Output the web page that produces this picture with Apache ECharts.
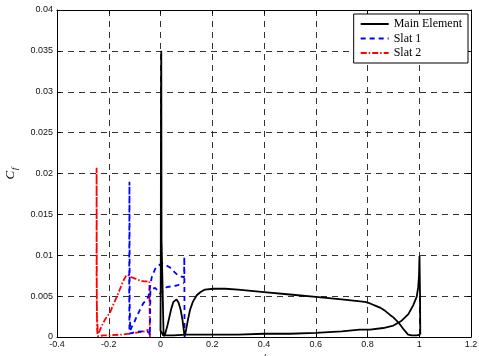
<!DOCTYPE html>
<html>
<head>
<meta charset="utf-8">
<script src="https://cdn.jsdelivr.net/npm/echarts@6/dist/echarts.min.js"></script>
<style>
  html, body { margin: 0; padding: 0; background: #fff; }
  #chart { width: 479px; height: 356px; }
</style>
</head>
<body>
<div id="chart"></div>
<script>
// Skin-friction coefficient along the three elements (closed loops: upper then lower surface)
const mainX = [1.004, 0.99, 0.97, 0.957, 0.951, 0.938, 0.919, 0.9, 0.887, 0.868, 0.848, 0.825, 0.81, 0.79, 0.7, 0.6, 0.5, 0.4, 0.3, 0.25, 0.204, 0.172, 0.155, 0.14, 0.125, 0.114, 0.106, 0.099, 0.094,
  0.091, 0.085, 0.078, 0.07, 0.062, 0.056, 0.05, 0.042, 0.034, 0.026, 0.018, 0.012, 0.007,
  0.004, 0.003, 0.002, 0.001, 0.0,
  0.01, 0.05, 0.1, 0.2, 0.3, 0.4, 0.5, 0.6, 0.7, 0.77, 0.81, 0.861, 0.9, 0.932, 0.958, 0.977, 0.99, 0.996, 0.999, 1.0, 1.001, 1.003, 1.004];
const mainCf = [0.0003, 0.0002, 0.0002, 0.0003, 0.0005, 0.001, 0.0018, 0.0024, 0.0027, 0.0032, 0.0036, 0.0039, 0.0041, 0.0043, 0.0046, 0.0049, 0.0052, 0.0055, 0.0058, 0.0059, 0.0059, 0.0058, 0.0055, 0.0051, 0.0043, 0.0033, 0.0021, 0.0009, 0.0001,
  0.0006, 0.0021, 0.0033, 0.0042, 0.0046, 0.0046, 0.0043, 0.0035, 0.0024, 0.0013, 0.0004, 0.0001, 0.0001,
  0.012, 0.035, 0.03, 0.008, 0.0008,
  0.0002, 0.0002, 0.0003, 0.0003, 0.0003, 0.0004, 0.0004, 0.0005, 0.0007, 0.0009, 0.0009, 0.0011, 0.0014, 0.002, 0.0028, 0.0039, 0.0049, 0.0061, 0.0075, 0.0088, 0.0099, 0.005, 0.0003];

const slat1X = [0.093, 0.092, 0.091, 0.088, 0.069, 0.055, 0.037, 0.02, 0.005, -0.01, -0.021, -0.034, -0.04, -0.047, -0.055, -0.067, -0.08, -0.092, -0.1, -0.11, -0.117,
  -0.119, -0.12, -0.121, -0.12,
  -0.1, -0.07, -0.045, -0.041, -0.04, -0.039, -0.02, -0.002, 0.024, 0.063, 0.09];
const slat1Cf = [0.0, 0.0098, 0.0073, 0.0073, 0.0075, 0.0079, 0.0085, 0.0088, 0.009, 0.0087, 0.0083, 0.0073, 0.0062, 0.0049, 0.0045, 0.0041, 0.0033, 0.0025, 0.0019, 0.0013, 0.0008,
  0.004, 0.019, 0.006, 0.0004,
  0.0006, 0.0007, 0.0006, 0.0002, 0.003, 0.0058, 0.006, 0.0053, 0.0061, 0.0063, 0.0066];

const slat2X = [-0.041, -0.042, -0.043, -0.047, -0.063, -0.079, -0.095, -0.111, -0.122, -0.131, -0.14, -0.15, -0.16, -0.169, -0.182, -0.195, -0.215, -0.228, -0.236, -0.242,
  -0.246, -0.247, -0.247, -0.245, -0.243,
  -0.22, -0.2, -0.15, -0.1, -0.06, -0.046];
const slat2Cf = [0.0, 0.0035, 0.0068, 0.0066, 0.0068, 0.0069, 0.0071, 0.0073, 0.0075, 0.0076, 0.0071, 0.0064, 0.0056, 0.0049, 0.004, 0.003, 0.0021, 0.0013, 0.0007, 0.0004,
  0.003, 0.0207, 0.008, 0.001, 0.0001,
  0.0002, 0.0002, 0.0003, 0.0005, 0.0007, 0.0009];

const seriesNames = ['Main Element', 'Slat 1', 'Slat 2'];

const pairs = (xs, ys) => xs.map((x, i) => [x, ys[i]]);

const chart = echarts.init(document.getElementById('chart'), null, { renderer: 'canvas' });

const gridDash = { color: '#333', width: 1, type: [6, 5] };
const tickFont = { color: '#111', fontSize: 9, fontFamily: 'Liberation Sans, Arial, sans-serif' };
const frameLine = { show: true, onZero: false, lineStyle: { color: '#000', width: 1 } };
const innerTicks = { show: true, inside: true, length: 4, lineStyle: { color: '#000' } };

chart.setOption({
  animation: false,
  backgroundColor: '#fff',
  grid: { left: 57, right: 8, top: 10, bottom: 19, containLabel: false, outerBoundsMode: 'none' },
  legend: {
    data: seriesNames,
    orient: 'vertical',
    right: 11,
    top: 14,
    itemWidth: 28,
    itemHeight: 12,
    itemGap: 2.5,
    padding: [4, 6, 4, 6],
    backgroundColor: '#fff',
    borderColor: '#000',
    borderWidth: 1,
    // line-only legend keys
    itemStyle: { color: 'rgba(0,0,0,0)', borderWidth: 0 },
    textStyle: { color: '#000', fontSize: 12, fontFamily: 'Liberation Serif, Times New Roman, serif' }
  },
  xAxis: [{
    type: 'value', min: -0.4, max: 1.2, interval: 0.2,
    name: 'x/c', nameLocation: 'middle', nameGap: 17,
    nameTextStyle: { color: '#000', fontSize: 10, fontStyle: 'italic', fontFamily: 'Liberation Sans, Arial, sans-serif' },
    axisLine: frameLine,
    axisTick: innerTicks,
    axisLabel: Object.assign({ margin: 3 }, tickFont),
    splitLine: { show: true, lineStyle: gridDash }
  }, {
    type: 'value', position: 'top', min: -0.4, max: 1.2, interval: 0.2,
    axisLine: frameLine,
    axisTick: innerTicks,
    axisLabel: { show: false },
    splitLine: { show: false }
  }],
  yAxis: [{
    type: 'value', min: 0, max: 0.04, interval: 0.005,
    name: '{c|C}{f|f}', nameLocation: 'middle', nameGap: 37, nameRotate: 90,
    nameTextStyle: {
      rich: {
        c: { fontSize: 13, fontStyle: 'italic', color: '#000', fontFamily: 'Liberation Serif, Times New Roman, serif' },
        f: { fontSize: 9, fontStyle: 'italic', color: '#000', fontFamily: 'Liberation Serif, Times New Roman, serif', padding: [8, 0, 0, 1] }
      }
    },
    axisLine: frameLine,
    axisTick: innerTicks,
    axisLabel: Object.assign({ margin: 4 }, tickFont),
    splitLine: { show: true, lineStyle: gridDash }
  }, {
    type: 'value', position: 'right', min: 0, max: 0.04, interval: 0.005,
    axisLine: frameLine,
    axisTick: innerTicks,
    axisLabel: { show: false },
    splitLine: { show: false }
  }],
  series: [{
    name: seriesNames[0], type: 'line', symbol: 'none', smooth: false,
    data: pairs(mainX, mainCf),
    lineStyle: { color: '#000', width: 1.8, type: 'solid' },
    itemStyle: { color: '#000' },
    z: 4
  }, {
    name: seriesNames[1], type: 'line', symbol: 'none',
    data: pairs(slat1X, slat1Cf),
    lineStyle: { color: '#0000ff', width: 1.8, type: [5, 4] },
    itemStyle: { color: '#0000ff' },
    z: 3
  }, {
    name: seriesNames[2], type: 'line', symbol: 'none',
    data: pairs(slat2X, slat2Cf),
    lineStyle: { color: '#ff0000', width: 1.8, type: [6, 2, 1.5, 2] },
    itemStyle: { color: '#ff0000' },
    z: 2
  }]
});
</script>
</body>
</html>
